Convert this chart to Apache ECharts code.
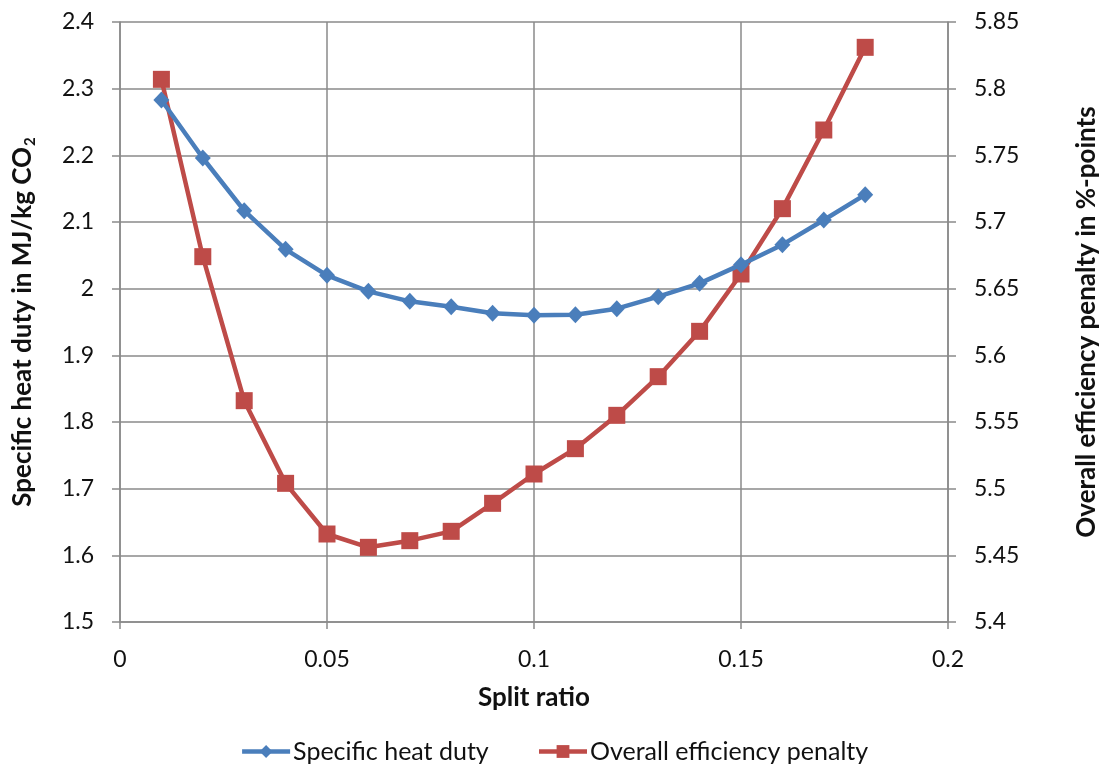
<!DOCTYPE html>
<html>
<head>
<meta charset="utf-8">
<script src="https://cdn.jsdelivr.net/npm/echarts@6/dist/echarts.min.js"></script>
<style>
  html, body { margin: 0; padding: 0; background: #fff; }
  #chart { width: 1108px; height: 771px; }
</style>
</head>
<body>
<div id="chart"></div>
<script>
// Split ratio values (x) shared by both series
const splitRatio = [0.01, 0.02, 0.03, 0.04, 0.05, 0.06, 0.07, 0.08, 0.09, 0.10, 0.11, 0.12, 0.13, 0.14, 0.15, 0.16, 0.17, 0.18];
// Specific heat duty, MJ/kg CO2 (left axis)
const heatDuty = [2.283, 2.196, 2.117, 2.059, 2.020, 1.996, 1.981, 1.973, 1.963, 1.960, 1.961, 1.970, 1.988, 2.008, 2.036, 2.066, 2.103, 2.141];
// Overall efficiency penalty, %-points (right axis)
const effPenalty = [5.807, 5.674, 5.566, 5.504, 5.466, 5.456, 5.461, 5.468, 5.489, 5.511, 5.530, 5.555, 5.584, 5.618, 5.661, 5.710, 5.769, 5.831];

const seriesNames = ['Specific heat duty', 'Overall efficiency penalty'];
const xTitle = 'Split ratio';
const leftTitle = '{a|Specific heat duty in MJ/kg CO}{s|2}';
const rightTitle = 'Overall efficiency penalty in %-points';

const FONT = 'Lato, "Open Sans", sans-serif';
const GRID = '#8a8a8a';
const BLUE = '#4a7ebb';
const RED = '#be4b48';
const TICK_SIZE = 23;
const TITLE_SIZE = 26;

const fmt = v => String(parseFloat(v.toFixed(3)));

const chart = echarts.init(document.getElementById('chart'));
chart.setOption({
  animation: false,
  textStyle: { fontFamily: FONT },
  grid: { left: 120, right: 156, top: 22, bottom: 149, containLabel: false },
  legend: {
    data: seriesNames,
    bottom: 2,
    left: 'center',
    itemWidth: 48,
    itemHeight: 16,
    itemGap: 48,
    lineStyle: { width: 4.5 },
    textStyle: { fontSize: 25, color: '#111', fontFamily: FONT, padding: [0, 0, 0, -2] }
  },
  xAxis: {
    type: 'value',
    min: 0, max: 0.2, interval: 0.05,
    name: xTitle,
    nameLocation: 'middle',
    nameGap: 63,
    nameTextStyle: { fontSize: TITLE_SIZE, fontWeight: 'bold', color: '#111', fontFamily: FONT },
    axisLine: { show: true, lineStyle: { color: GRID, width: 1.5 } },
    axisTick: { show: true, length: 7, lineStyle: { color: GRID, width: 1.5 } },
    axisLabel: { fontSize: TICK_SIZE, color: '#111', margin: 26, formatter: fmt },
    splitLine: { show: true, lineStyle: { color: GRID, width: 1.5 } }
  },
  yAxis: [
    {
      type: 'value',
      min: 1.5, max: 2.4, interval: 0.1,
      position: 'left',
      name: leftTitle,
      nameLocation: 'middle',
      nameRotate: 90,
      nameGap: 82,
      nameTextStyle: {
        rich: {
          a: { fontSize: TITLE_SIZE, fontWeight: 'bold', color: '#111', fontFamily: FONT, lineHeight: 30 },
          s: { fontSize: 15, fontWeight: 'bold', color: '#111', fontFamily: FONT, lineHeight: 30, verticalAlign: 'bottom', padding: [8, 0, 0, 1] }
        }
      },
      axisLine: { show: true, lineStyle: { color: GRID, width: 1.5 } },
      axisTick: { show: true, length: 8, lineStyle: { color: GRID, width: 1.5 } },
      axisLabel: { fontSize: TICK_SIZE, color: '#111', margin: 26, formatter: fmt },
      splitLine: { show: true, lineStyle: { color: GRID, width: 1.5 } }
    },
    {
      type: 'value',
      min: 5.4, max: 5.85, interval: 0.05,
      position: 'right',
      name: rightTitle,
      nameLocation: 'middle',
      nameRotate: 90,
      nameGap: 126,
      nameTextStyle: { fontSize: TITLE_SIZE, fontWeight: 'bold', color: '#111', fontFamily: FONT },
      axisLine: { show: true, lineStyle: { color: GRID, width: 1.5 } },
      axisTick: { show: true, length: 8, lineStyle: { color: GRID, width: 1.5 } },
      axisLabel: { fontSize: TICK_SIZE, color: '#111', margin: 26, formatter: fmt },
      splitLine: { show: false }
    }
  ],
  series: [
    {
      name: seriesNames[0],
      type: 'line',
      yAxisIndex: 0,
      data: splitRatio.map((x, i) => [x, heatDuty[i]]),
      symbol: 'diamond',
      symbolSize: [16, 17],
      lineStyle: { color: BLUE, width: 4.5 },
      itemStyle: { color: BLUE },
      z: 3
    },
    {
      name: seriesNames[1],
      type: 'line',
      yAxisIndex: 1,
      data: splitRatio.map((x, i) => [x, effPenalty[i]]),
      symbol: 'rect',
      symbolSize: 17,
      lineStyle: { color: RED, width: 4.5 },
      itemStyle: { color: RED },
      z: 2
    }
  ]
});
</script>
</body>
</html>
